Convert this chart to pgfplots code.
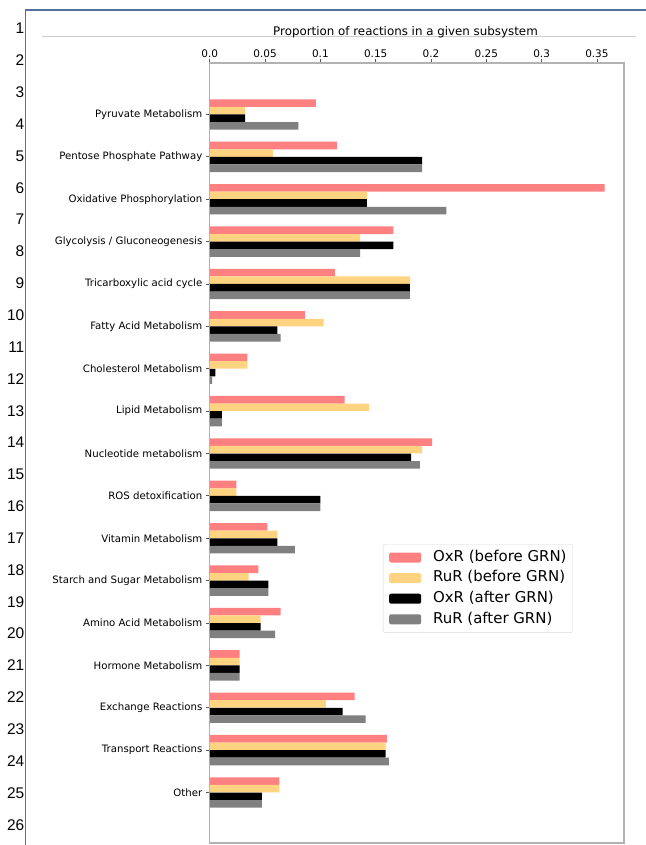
\documentclass[border=0pt]{standalone}
\usepackage{pgfplots}
\pgfplotsset{compat=1.18}
\usepackage{pgfplotstable}
\usepackage{fontspec}
\setmainfont{DejaVu Sans}
\newfontfamily\rowfont{Liberation Sans}

\definecolor{oxbefore}{RGB}{255,128,128}
\definecolor{rubefore}{RGB}{255,211,128}
\definecolor{oxafter}{RGB}{0,0,0}
\definecolor{ruafter}{RGB}{128,128,128}
\definecolor{sheetblue}{RGB}{84,112,158}
\definecolor{framegray}{RGB}{178,178,178}
\definecolor{tickgray}{RGB}{90,90,90}

% Proportion of reactions per subsystem; pos 16 is the top row
\pgfplotstableread{
pos oxb   rub   oxa   rua
16  0.096 0.032 0.032 0.080
15  0.115 0.057 0.192 0.192
14  0.357 0.142 0.142 0.214
13  0.166 0.136 0.166 0.136
12  0.113 0.181 0.181 0.181
11  0.086 0.103 0.061 0.064
10  0.034 0.034 0.005 0.002
9   0.122 0.144 0.011 0.011
8   0.201 0.192 0.182 0.190
7   0.024 0.024 0.100 0.100
6   0.052 0.061 0.061 0.077
5   0.044 0.035 0.053 0.053
4   0.064 0.046 0.046 0.059
3   0.027 0.027 0.027 0.027
2   0.131 0.105 0.120 0.141
1   0.160 0.159 0.159 0.162
0   0.063 0.063 0.047 0.047
}\subsystems

\begin{document}
\begin{tikzpicture}
\useasboundingbox (0bp,0bp) rectangle (646bp,-845bp);

% sheet frame and row headers
\draw[sheetblue, line width=1.3bp] (25.7bp,-845bp) -- (25.7bp,-10bp) -- (646bp,-10bp);
\foreach \k in {1,...,26}{
  \node[anchor=east, inner sep=0pt, font=\rowfont\fontsize{15.5}{18}\selectfont]
    at (24.5bp, {-(28.5+31.85*(\k-1))*1bp}) {\k};
}

% chart title
\draw[gray!40, line width=0.8bp] (42bp,-36.5bp) -- (636bp,-36.5bp);
\node[anchor=base, inner sep=0pt, font=\fontsize{11.9}{14}\selectfont]
  at (405.5bp,-35bp) {Proportion of reactions in a given subsystem};

\begin{axis}[
  at={(209.8bp,-843bp)}, anchor=south west,
  scale only axis, width=414.2bp, height=780bp,
  xbar, bar width=0.179,
  xmin=0, xmax=0.3745, ymin=-1.192, ymax=17.215,
  axis line style={framegray, line width=1.2bp},
  xtick={0,0.05,0.1,0.15,0.2,0.25,0.3,0.35},
  xticklabels={0.0,0.05,0.1,0.15,0.2,0.25,0.3,0.35},
  xtick pos=right, xticklabel pos=right,
  ytick={0,...,16},
  yticklabels={Other,Transport Reactions,Exchange Reactions,Hormone Metabolism,
    Amino Acid Metabolism,Starch and Sugar Metabolism,Vitamin Metabolism,
    ROS detoxification,Nucleotide metabolism,Lipid Metabolism,
    Cholesterol Metabolism,Fatty Acid Metabolism,Tricarboxylic acid cycle,
    Glycolysis / Gluconeogenesis,Oxidative Phosphorylation,
    Pentose Phosphate Pathway,Pyruvate Metabolism},
  ytick pos=left,
  tick align=outside, major tick length=4bp,
  tick style={tickgray, line width=0.8bp},
  xticklabel style={font=\fontsize{10.5}{12}\selectfont, yshift=-2.5bp},
  yticklabel style={font=\fontsize{10.2}{12}\selectfont},
  legend style={at={(0.418,0.3833)}, anchor=north west,
    draw=gray!30, rounded corners=2bp,
    inner xsep=6bp, inner ysep=3bp, row sep=0pt,
    font=\fontsize{15}{18}\selectfont,
    nodes={inner xsep=0pt, inner ysep=3bp, text height=11bp, text depth=3.6bp}},
  legend cell align=left,
  legend image code/.code={\fill[#1] (0bp,-5bp) rectangle (32bp,5bp);
    \path (44bp,0bp);},
]
\addplot[fill=oxbefore, draw=none, bar shift=0.269]  table[x=oxb, y=pos] {\subsystems};
\addplot[fill=rubefore, draw=none, bar shift=0.0897] table[x=rub, y=pos] {\subsystems};
\addplot[fill=oxafter,  draw=none, bar shift=-0.0897] table[x=oxa, y=pos] {\subsystems};
\addplot[fill=ruafter,  draw=none, bar shift=-0.269] table[x=rua, y=pos] {\subsystems};
\legend{OxR (before GRN),RuR (before GRN),OxR (after GRN),RuR (after GRN)}
\end{axis}
\end{tikzpicture}
\end{document}
